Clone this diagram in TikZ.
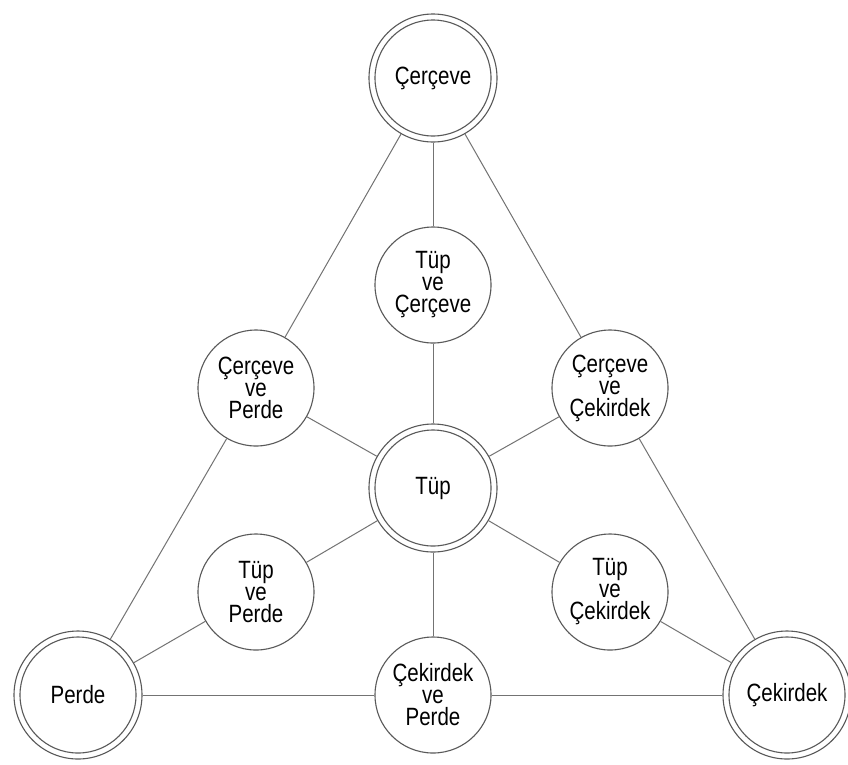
\documentclass[tikz,border=0pt]{standalone}
\usepackage{fontspec}
\setmainfont{Liberation Sans}[FakeStretch=0.82]
\begin{document}
\begin{tikzpicture}[x=1pt,y=1pt]
\tikzset{
 lbl/.style={font=\fontsize{25}{22}\selectfont, align=center, text=black},
 small/.style={lbl, circle, draw=black!65, line width=1.1pt, minimum size=116pt, inner sep=0pt},
 big/.style={lbl, circle, draw=black!65, line width=1.1pt, minimum size=128pt, inner sep=0pt,
   path picture={\draw[black!65, line width=1.1pt] (path picture bounding box.center) circle (58pt);}},
 link/.style={draw=black!55, line width=1pt}
}
\fill[white] (0,0) rectangle (848,-764);
\useasboundingbox (0,0) rectangle (848,-764);
\node[big] (cer) at (433,-78) {Çerçeve};
\node[small] (tc) at (433,-285) {Tüp\\ve\\Çerçeve};
\node[small] (cp) at (256,-388) {Çerçeve\\ve\\Perde};
\node[small] (cc) at (610,-388) {Çerçeve\\ve\\Çekirdek};
\node[big] (tup) at (433,-488) {Tüp};
\node[small] (tp) at (256,-592) {Tüp\\ve\\Perde};
\node[small] (tk) at (610,-592) {Tüp\\ve\\Çekirdek};
\node[big] (per) at (78,-695) {Perde};
\node[small] (kp) at (433,-695) {Çekirdek\\ve\\Perde};
\node[big] (cek) at (787,-695) {Çekirdek};
\draw[link] (cer) -- (cp);
\draw[link] (cp) -- (per);
\draw[link] (cer) -- (tc);
\draw[link] (tc) -- (tup);
\draw[link] (cer) -- (cc);
\draw[link] (cc) -- (cek);
\draw[link] (per) -- (kp);
\draw[link] (kp) -- (cek);
\draw[link] (per) -- (tp);
\draw[link] (tp) -- (tup);
\draw[link] (cek) -- (tk);
\draw[link] (tk) -- (tup);
\draw[link] (tup) -- (cp);
\draw[link] (tup) -- (cc);
\draw[link] (tup) -- (kp);
\end{tikzpicture}
\end{document}
